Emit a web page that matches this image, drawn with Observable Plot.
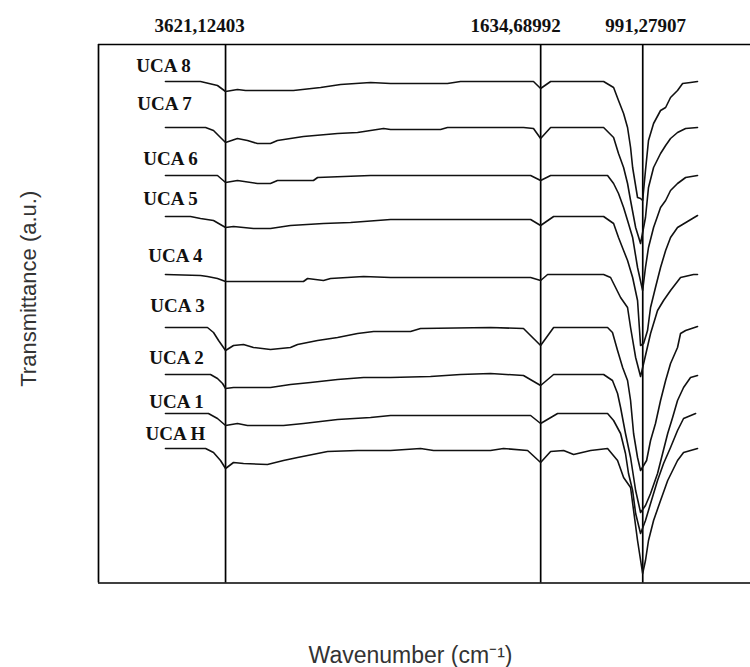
<!DOCTYPE html>
<html><head><meta charset="utf-8">
<script src="https://cdn.jsdelivr.net/npm/d3@7"></script>
<script src="https://cdn.jsdelivr.net/npm/@observablehq/plot@0.6"></script>
<style>html,body{margin:0;padding:0;background:#fff;overflow:hidden}</style>
</head><body><div id="chart"></div><script>
// Sample names (bottom to top)
const sampleNames = ["UCA H","UCA 1","UCA 2","UCA 3","UCA 4","UCA 5","UCA 6","UCA 7","UCA 8"];

// Spectra: [wavenumber (cm-1), transmittance (a.u., offset-stacked)]
const UCA_8 = [[4000,501],[3779,501],[3672,497],[3621,491],[3546,493],[3495,492],[3193,492],[3022,495],[2896,498],[2707,500],[2581,499],[2222,499],[2140,501],[1680,501],[1635,494],[1572,501],[1238,501],[1175,495],[1144,482],[1112,469],[1087,455],[1068,435],[1055,415],[1024,385],[1005,384],[992,382],[974,412],[955,442],[923,459],[879,472],[847,475],[816,485],[772,492],[740,499],[690,500],[646,501]];
const UCA_7 = [[4000,455],[3747,455],[3697,452],[3653,445],[3621,440],[3546,444],[3483,442],[3420,439],[3338,439],[3294,442],[3130,446],[2915,449],[2789,450],[2625,454],[2581,453],[2266,453],[2222,455],[1743,455],[1680,454],[1635,444],[1572,455],[1238,455],[1175,445],[1144,429],[1112,415],[1087,399],[1068,382],[1036,355],[1005,339],[974,365],[955,395],[923,415],[879,429],[847,437],[816,444],[772,450],[721,454],[646,455]];
const UCA_6 = [[4000,407],[3672,407],[3621,400],[3546,402],[3420,399],[3338,399],[3294,402],[3067,402],[3041,405],[2707,407],[1698,407],[1635,402],[1572,407],[1213,407],[1175,399],[1144,389],[1112,375],[1087,362],[1055,345],[1024,315],[992,292],[974,315],[955,335],[923,355],[879,375],[847,382],[816,392],[772,399],[721,405],[646,407]];
const UCA_5 = [[4000,366],[3842,366],[3779,364],[3697,362],[3621,355],[3571,356],[3445,354],[3338,354],[3212,357],[3004,359],[2833,360],[2581,363],[1698,363],[1635,357],[1553,366],[1238,366],[1175,359],[1144,345],[1112,332],[1087,322],[1055,305],[1024,282],[1005,237],[986,239],[961,252],[942,275],[911,295],[879,315],[847,332],[816,345],[772,355],[646,367]];
const UCA_4 = [[4000,308],[3779,307],[3735,306],[3672,304],[3621,301],[3130,301],[3104,304],[3004,302],[2959,304],[2751,306],[2581,305],[1698,305],[1635,302],[1591,308],[1238,308],[1194,305],[1131,285],[1087,275],[1068,255],[1036,225],[1005,206],[974,227],[942,249],[898,272],[860,282],[816,292],[753,305],[671,308],[646,308]];
const UCA_3 = [[4000,255],[3735,255],[3697,250],[3665,242],[3621,232],[3571,237],[3508,238],[3445,235],[3338,233],[3212,235],[3167,238],[3041,242],[2915,245],[2789,249],[2688,251],[2455,251],[2392,254],[1951,255],[1743,254],[1635,237],[1553,255],[1213,255],[1182,250],[1150,232],[1118,215],[1087,202],[1068,182],[1049,149],[1024,125],[1005,112],[967,122],[942,142],[911,159],[879,182],[847,202],[816,219],[772,235],[753,249],[721,252],[646,256]];
const UCA_2 = [[4000,208],[3716,208],[3672,204],[3640,199],[3621,194],[3571,195],[3338,195],[3212,198],[3085,200],[2915,203],[2751,205],[2581,205],[2329,206],[2140,208],[1951,209],[1743,207],[1635,197],[1553,208],[1238,208],[1182,202],[1150,189],[1131,175],[1100,149],[1068,125],[1036,92],[1005,70],[974,77],[942,89],[898,109],[866,129],[834,149],[803,165],[772,182],[734,195],[690,205],[646,207]];
const UCA_1 = [[4000,169],[3729,169],[3672,164],[3621,157],[3546,159],[3483,157],[3256,157],[3130,159],[2915,163],[2707,165],[2581,167],[1698,167],[1635,159],[1528,169],[1213,169],[1175,162],[1131,149],[1100,129],[1081,109],[1055,92],[1036,69],[1005,49],[974,62],[942,79],[898,102],[860,119],[816,135],[772,152],[734,164],[658,169]];
const UCA_H = [[4000,134],[3747,134],[3697,130],[3653,122],[3621,114],[3571,120],[3508,119],[3357,118],[3256,122],[3167,125],[2978,131],[2789,132],[2581,132],[2392,134],[2310,132],[1951,132],[1869,134],[1717,132],[1635,120],[1572,131],[1490,132],[1427,128],[1320,132],[1213,134],[1150,122],[1112,105],[1068,95],[1049,72],[1024,42],[992,9],[974,22],[955,42],[923,62],[879,82],[834,102],[772,122],[734,130],[646,134]];

// Sample label anchors (wavenumber, transmittance)
const labelWn = [3937, 3930, 3930, 3924, 3937, 3968, 3968, 4006, 4012];
const labelT  = [149, 181, 225, 277, 327, 384, 424, 479, 517];

// Marked peaks
const peakWn = [3621.12403, 1634.68992, 991.27907];
const peakLabels = ["3621,12403", "1634,68992", "991,27907"];

const spectra = [UCA_H, UCA_1, UCA_2, UCA_3, UCA_4, UCA_5, UCA_6, UCA_7, UCA_8];
const rows = spectra.flatMap((s, i) => s.map(([wn, t]) => ({sample: sampleNames[i], wn, t})));
const labels = sampleNames.map((name, i) => ({name, wn: labelWn[i], t: labelT[i]}));

const xDomain = [4422, 312];
const yDomain = [-0.5, 538];
const peakDx = [-26, -25, 3];

const chart = Plot.plot({
  width: 750,
  height: 667,
  marginTop: 44,
  marginBottom: 84.5,
  marginLeft: 98,
  marginRight: 0,
  x: {domain: xDomain, axis: null},
  y: {domain: yDomain, axis: null},
  marks: [
    Plot.ruleX(peakWn, {stroke: "#000", strokeWidth: 1.7}),
    Plot.line(rows, {x: "wn", y: "t", z: "sample", stroke: "#111", strokeWidth: 1.6}),
    Plot.ruleY([yDomain[1]], {stroke: "#000", strokeWidth: 1.7}),
    Plot.ruleY([yDomain[0]], {stroke: "#000", strokeWidth: 1.7}),
    Plot.ruleX([xDomain[0]], {stroke: "#000", strokeWidth: 1.7}),
    Plot.text(labels, {x: "wn", y: "t", text: "name", fontFamily: "Liberation Serif", fontWeight: "bold", fontSize: 19, fill: "#111", textAnchor: "middle", letterSpacing: "-0.5px"}),
    ...peakLabels.map((lab, i) => Plot.text([lab], {x: peakWn[i], frameAnchor: "top", dy: -19, dx: peakDx[i], text: d => d, fontFamily: "Liberation Serif", fontWeight: "bold", fontSize: 19, fill: "#111", textAnchor: "middle", lineAnchor: "middle", letterSpacing: "-0.6px"})),
    Plot.text(["Wavenumber (cm⁻¹)"], {frameAnchor: "bottom", dy: 73, dx: -14, text: d => d, fontFamily: "Liberation Sans", fontSize: 23, fill: "#333", textAnchor: "middle", lineAnchor: "middle"}),
    Plot.text(["Transmittance (a.u.)"], {frameAnchor: "left", dx: -70, dy: -25, rotate: -90, text: d => d, fontFamily: "Liberation Sans", fontSize: 22, fill: "#333", textAnchor: "middle", lineAnchor: "middle"})
  ]
});
document.getElementById("chart").appendChild(chart);
</script></body></html>
